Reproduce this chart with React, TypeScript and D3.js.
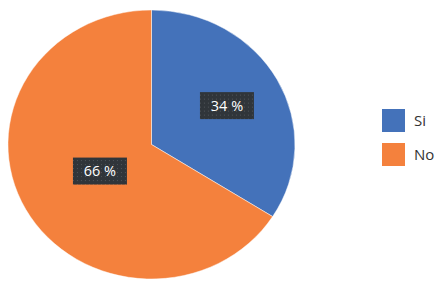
import React from 'react';
import * as d3 from 'd3';

const categories = ['Si', 'No'];
const values = [34, 66];
const colors = ['#4472BA', '#F4813D'];

const width = 437;
const height = 295;

export default function App() {
  const cx = 151.5;
  const cy = 144.5;
  const rx = 143.5;
  const ry = 134.5;

  const pie = d3.pie<number>().sort(null).value(d => d);
  const arcs = pie(values);
  const arc = d3.arc<d3.PieArcDatum<number>>().innerRadius(0).outerRadius(1);

  // label distance from center (fraction of radius), per slice, like Excel's best fit
  const labelFrac = [0.6, 0.41];

  return (
    <svg width={width} height={height} style={{ position: 'absolute', left: 0, top: 0 }}>
      <defs>
        <pattern id="dots" width="4" height="4" patternUnits="userSpaceOnUse">
          <rect width="4" height="4" fill="#30353a" />
          <rect x="1" y="1" width="1" height="1" fill="#50555a" />
        </pattern>
      </defs>
      <rect width={width} height={height} fill="#fff" />
      <g transform={`translate(${cx},${cy}) scale(${rx},${ry})`}>
        {arcs.map((a, i) => (
          <path key={i} d={arc(a) || ''} fill={colors[i]} stroke="#fff" strokeWidth={0.5 / rx} />
        ))}
      </g>
      {arcs.map((a, i) => {
        const mid = (a.startAngle + a.endAngle) / 2;
        const x = cx + Math.sin(mid) * rx * labelFrac[i];
        const y = cy - Math.cos(mid) * ry * labelFrac[i];
        return (
          <g key={i} transform={`translate(${x},${y})`}>
            <rect x={-27} y={-13.5} width={54} height={27} fill="url(#dots)" />
            <text
              textAnchor="middle"
              dy="0.36em"
              fill="#fff"
              fontSize={14.5}
              fontFamily="'Open Sans', sans-serif"
            >
              {`${values[i]} %`}
            </text>
          </g>
        );
      })}
      <g transform="translate(382,109)">
        {categories.map((c, i) => (
          <g key={c} transform={`translate(0,${i * 34})`}>
            <rect width={23} height={23} fill={colors[i]} />
            <text x={32} y={11.5} dy="0.36em" fontSize={15} fill="#333" fontFamily="'Open Sans', sans-serif">
              {c}
            </text>
          </g>
        ))}
      </g>
    </svg>
  );
}
